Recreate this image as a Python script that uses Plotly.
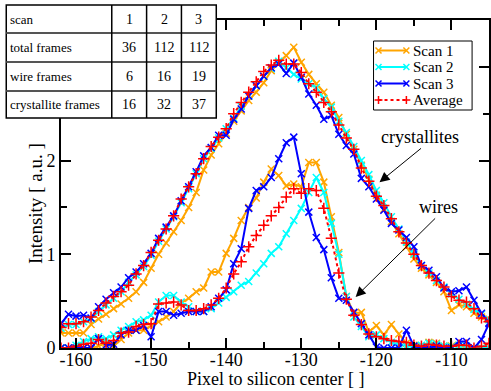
import plotly.graph_objects as go

# Pixel positions (integer pixel offsets from the silicon centre)
pixel = list(range(-162, -104))

# Crystallite frames, one profile per scan plus their average
scan1_cryst = [0.16, 0.16, 0.16, 0.16, 0.25, 0.31, 0.36, 0.42, 0.47, 0.53,
               0.60, 0.70, 0.85, 1.00, 1.12, 1.24, 1.36, 1.50, 1.66, 1.90,
               2.06, 2.18, 2.29, 2.42, 2.53, 2.64, 2.73, 2.83, 2.96, 3.05,
               3.12, 3.21, 3.05, 2.92, 2.82, 2.73, 2.59, 2.46, 2.28, 2.12,
               1.95, 1.80, 1.63, 1.48, 1.35, 1.22, 1.08, 0.95, 0.85, 0.78,
               0.70, 0.60, 0.40, 0.46, 0.44, 0.37, 0.33, 0.31]
scan2_cryst = [0.21, 0.25, 0.25, 0.28, 0.31, 0.39, 0.46, 0.53, 0.60, 0.70,
               0.78, 0.87, 0.99, 1.14, 1.27, 1.40, 1.55, 1.70, 1.86, 2.02,
               2.13, 2.24, 2.34, 2.45, 2.58, 2.69, 2.80, 2.90, 2.98, 3.06,
               2.99, 2.92, 2.87, 2.82, 2.78, 2.66, 2.57, 2.42, 2.30, 2.15,
               2.00, 1.85, 1.68, 1.55, 1.40, 1.27, 1.13, 1.00, 0.88, 0.80,
               0.72, 0.65, 0.58, 0.52, 0.47, 0.41, 0.36, 0.30]
scan3_cryst = [0.26, 0.36, 0.34, 0.35, 0.32, 0.44, 0.52, 0.59, 0.65, 0.75,
               0.81, 0.90, 1.01, 1.17, 1.29, 1.41, 1.57, 1.72, 1.88, 2.05,
               2.14, 2.27, 2.27, 2.44, 2.55, 2.69, 2.80, 2.90, 2.99, 3.03,
               2.93, 3.04, 2.89, 2.71, 2.59, 2.44, 2.48, 2.28, 2.16, 2.07,
               1.81, 1.72, 1.59, 1.47, 1.33, 1.26, 1.18, 1.08, 0.88, 0.83,
               0.76, 0.64, 0.60, 0.61, 0.65, 0.51, 0.37, 0.27]
avg_cryst = [0.22, 0.26, 0.26, 0.28, 0.33, 0.40, 0.48, 0.55, 0.60, 0.67,
             0.79, 0.88, 1.02, 1.15, 1.27, 1.41, 1.59, 1.72, 1.86, 2.02,
             2.15, 2.25, 2.34, 2.50, 2.62, 2.73, 2.84, 2.95, 3.02, 3.07,
             3.03, 3.03, 2.94, 2.82, 2.73, 2.62, 2.52, 2.38, 2.24, 2.12,
             1.92, 1.78, 1.62, 1.52, 1.38, 1.24, 1.12, 1.00, 0.88, 0.80,
             0.72, 0.65, 0.55, 0.51, 0.49, 0.42, 0.32, 0.28]

# Wire frames
scan1_wire = [0.00, 0.00, 0.00, 0.00, 0.00, 0.02, 0.05, 0.02, 0.09, 0.16,
              0.19, 0.19, 0.24, 0.28, 0.33, 0.39, 0.48, 0.53, 0.60, 0.64,
              0.81, 0.81, 1.01, 1.17, 1.36, 1.50, 1.60, 1.77, 1.91, 1.84,
              1.73, 1.75, 1.72, 1.98, 1.98, 1.77, 1.40, 1.02, 0.55, 0.37,
              0.38, 0.17, 0.24, 0.14, 0.25, 0.15, 0.05, 0.03, 0.02, 0.06,
              0.05, 0.02, 0.02, 0.03, 0.00, 0.00, 0.00, 0.00]
scan2_wire = [0.00, 0.00, 0.03, 0.07, 0.10, 0.12, 0.10, 0.14, 0.19, 0.23,
              0.28, 0.30, 0.35, 0.49, 0.56, 0.56, 0.49, 0.44, 0.39, 0.39,
              0.42, 0.48, 0.54, 0.60, 0.67, 0.71, 0.80, 0.90, 1.01, 1.08,
              1.22, 1.36, 1.49, 1.66, 1.82, 1.66, 1.33, 1.00, 0.55, 0.33,
              0.23, 0.12, 0.14, 0.10, 0.06, 0.04, 0.02, 0.01, 0.03, 0.05,
              0.04, 0.02, 0.01, 0.03, 0.02, 0.00, 0.00, 0.00]
scan3_wire = [0.00, 0.00, 0.00, 0.00, 0.00, 0.10, 0.03, 0.04, 0.14, 0.19,
              0.19, 0.24, 0.12, 0.39, 0.39, 0.35, 0.37, 0.39, 0.39, 0.39,
              0.44, 0.53, 0.62, 0.90, 1.06, 1.49, 1.68, 1.72, 1.82, 2.02,
              2.19, 2.25, 1.86, 1.45, 1.18, 1.05, 0.75, 0.53, 0.51, 0.38,
              0.26, 0.14, 0.01, 0.00, 0.00, 0.00, 0.19, 0.02, 0.00, 0.00,
              0.02, 0.00, 0.00, 0.07, 0.07, 0.00, 0.09, 0.26]
avg_wire = [0.00, 0.00, 0.02, 0.04, 0.05, 0.09, 0.05, 0.08, 0.16, 0.17,
            0.23, 0.25, 0.26, 0.47, 0.48, 0.49, 0.46, 0.40, 0.40, 0.42,
            0.46, 0.53, 0.64, 0.79, 0.92, 1.08, 1.20, 1.31, 1.41, 1.50,
            1.61, 1.70, 1.65, 1.70, 1.68, 1.49, 1.17, 0.80, 0.52, 0.35,
            0.25, 0.15, 0.12, 0.10, 0.08, 0.07, 0.06, 0.03, 0.02, 0.04,
            0.03, 0.02, 0.02, 0.03, 0.03, 0.00, 0.02, 0.05]

# Frame counts per scan
table_header = ["scan", "1", "2", "3"]
table_rows = [
    ["total frames", "36", "112", "112"],
    ["wire frames", "6", "16", "19"],
    ["crystallite frames", "16", "32", "37"],
]

series_names = ["Scan 1", "Scan 2", "Scan 3", "Average"]
series_colors = ["#ffa500", "#00ffff", "#0000ff", "#ff0000"]

x_ticks = [-160, -150, -140, -130, -120, -110]
y_ticks = [0, 1, 2, 3]

SERIF = "Liberation Serif"

fig = go.Figure()

for name, color, cryst, wire in zip(series_names[:3], series_colors[:3],
                                    (scan1_cryst, scan2_cryst, scan3_cryst),
                                    (scan1_wire, scan2_wire, scan3_wire)):
    for ys in (cryst, wire):
        fig.add_trace(go.Scatter(
            x=pixel, y=ys, mode="lines+markers", name=name,
            showlegend=False,
            line=dict(color=color, width=2),
            marker=dict(symbol="x-thin-open", size=7,
                        line=dict(color=color, width=1.5)),
        ))

for ys in (avg_cryst, avg_wire):
    fig.add_trace(go.Scatter(
        x=pixel, y=ys, mode="lines+markers", name="Average",
        showlegend=False,
        line=dict(color=series_colors[3], width=2, dash="dot"),
        marker=dict(symbol="cross-thin-open", size=8,
                    line=dict(color=series_colors[3], width=1.5)),
    ))

# Layout geometry in pixels (figure is 491 x 391)
W, H = 491, 391
L, R, T, B = 61, 0, 20, 43
PW, PH = W - L - R, H - T - B


def px_x(p):
    return (p - L) / PW


def px_y(p):
    return (H - B - p) / PH


shapes = []
annotations = []

# Frame-count table in the top-left corner
col_edges = [6, 112, 147, 182, 217]
row_edges = [5, 33, 62, 91, 118]
shapes.append(dict(type="rect", xref="paper", yref="paper", layer="above",
                   x0=px_x(col_edges[0]), x1=px_x(col_edges[-1]),
                   y0=px_y(row_edges[-1]), y1=px_y(row_edges[0]),
                   fillcolor="white", line=dict(color="black", width=1.5)))
for r in row_edges[1:-1]:
    shapes.append(dict(type="line", xref="paper", yref="paper", layer="above",
                       x0=px_x(col_edges[0]), x1=px_x(col_edges[-1]),
                       y0=px_y(r), y1=px_y(r),
                       line=dict(color="#555555", width=2)))
for c in col_edges[1:-1]:
    shapes.append(dict(type="line", xref="paper", yref="paper", layer="above",
                       x0=px_x(c), x1=px_x(c),
                       y0=px_y(row_edges[-1]), y1=px_y(row_edges[0]),
                       line=dict(color="black", width=1.5)))

for ri, row in enumerate([table_header] + table_rows):
    yc = px_y((row_edges[ri] + row_edges[ri + 1]) / 2)
    annotations.append(dict(xref="paper", yref="paper", x=px_x(col_edges[0] + 2),
                            y=yc, xanchor="left", yanchor="middle",
                            text=row[0], showarrow=False,
                            font=dict(family=SERIF, size=13, color="black")))
    for ci in range(1, 4):
        xc = px_x((col_edges[ci] + col_edges[ci + 1]) / 2)
        annotations.append(dict(xref="paper", yref="paper", x=xc, y=yc,
                                xanchor="center", yanchor="middle",
                                text=row[ci], showarrow=False,
                                font=dict(family=SERIF, size=14, color="black")))

# Legend box with line samples and marker glyphs
leg_left, leg_right, leg_top, leg_bottom = 375, 474, 41, 110
shapes.append(dict(type="rect", xref="paper", yref="paper", layer="above",
                   x0=px_x(leg_left), x1=px_x(leg_right),
                   y0=px_y(leg_bottom), y1=px_y(leg_top),
                   fillcolor="white", line=dict(color="black", width=1)))
leg_rows = [50.5, 67, 83.5, 100]
s0, s1 = 380, 408
for name, color, yy in zip(series_names, series_colors, leg_rows):
    is_avg = name == "Average"
    shapes.append(dict(type="line", xref="paper", yref="paper", layer="above",
                       x0=px_x(s0), x1=px_x(s1), y0=px_y(yy), y1=px_y(yy),
                       line=dict(color=color, width=2,
                                 dash="dot" if is_avg else "solid")))
    for cx in (s0, s1):
        if is_avg:
            d = 4
            path = (f"M{px_x(cx - d)},{px_y(yy)} L{px_x(cx + d)},{px_y(yy)} "
                    f"M{px_x(cx)},{px_y(yy - d)} L{px_x(cx)},{px_y(yy + d)}")
        else:
            d = 3
            path = (f"M{px_x(cx - d)},{px_y(yy - d)} L{px_x(cx + d)},{px_y(yy + d)} "
                    f"M{px_x(cx - d)},{px_y(yy + d)} L{px_x(cx + d)},{px_y(yy - d)}")
        shapes.append(dict(type="path", xref="paper", yref="paper", layer="above",
                           path=path, line=dict(color=color, width=1.5)))
    annotations.append(dict(xref="paper", yref="paper", x=px_x(413), y=px_y(yy),
                            xanchor="left", yanchor="middle", text=name,
                            showarrow=False,
                            font=dict(family=SERIF, size=15, color="black")))

# Labels with arrows
label_font = dict(family=SERIF, size=18, color="black")
annotations += [
    dict(x=-119.58, y=1.77, xref="x", yref="y", ax=43, ay=-35, text="",
         showarrow=True, arrowhead=2, arrowsize=2, arrowwidth=1,
         arrowcolor="black"),
    dict(xref="paper", yref="paper", x=px_x(422), y=px_y(137),
         xanchor="center", yanchor="middle",
         text="crystallites", showarrow=False, font=label_font),
    dict(x=-122.76, y=0.545, xref="x", yref="y", ax=81, ay=-80, text="",
         showarrow=True, arrowhead=2, arrowsize=2, arrowwidth=1,
         arrowcolor="black"),
    dict(xref="paper", yref="paper", x=px_x(440), y=px_y(207),
         xanchor="center", yanchor="middle",
         text="wires", showarrow=False, font=label_font),
    # axis titles
    dict(xref="paper", yref="paper", x=px_x(35), y=px_y(204),
         xanchor="center", yanchor="middle", textangle=-90,
         text="Intensity [ a.u. ]", showarrow=False,
         font=dict(family=SERIF, size=19, color="black")),
    dict(xref="paper", yref="paper", x=px_x(276), y=px_y(379),
         xanchor="center", yanchor="middle",
         text="Pixel to silicon center [ ]", showarrow=False,
         font=dict(family=SERIF, size=18, color="black")),
]

axis_common = dict(
    showline=True, linecolor="black", linewidth=2, mirror="ticks",
    ticks="inside", ticklen=10, tickwidth=2, tickcolor="black",
    showgrid=False, zeroline=False,
    tickfont=dict(family=SERIF, size=18, color="black"),
)

fig.update_layout(
    width=W, height=H,
    margin=dict(l=L, r=R, t=T, b=B, pad=0),
    paper_bgcolor="white", plot_bgcolor="white",
    showlegend=False,
    shapes=shapes, annotations=annotations,
    xaxis=dict(range=[-162, -105], tickvals=x_ticks,
               ticktext=[str(v) for v in x_ticks],
               ticklabelstandoff=-6,
               minor=dict(ticks="inside", ticklen=6, tickwidth=2,
                          tickcolor="black", dtick=5, tick0=0),
               **axis_common),
    # the "3" label sits underneath the table, so it is left blank
    yaxis=dict(range=[0, 3.5], tickvals=y_ticks,
               ticktext=[str(v) if v < 3 else "" for v in y_ticks],
               minor=dict(ticks="inside", ticklen=6, tickwidth=2,
                          tickcolor="black", dtick=0.5, tick0=0),
               **axis_common),
)

fig.write_html("out.html")
